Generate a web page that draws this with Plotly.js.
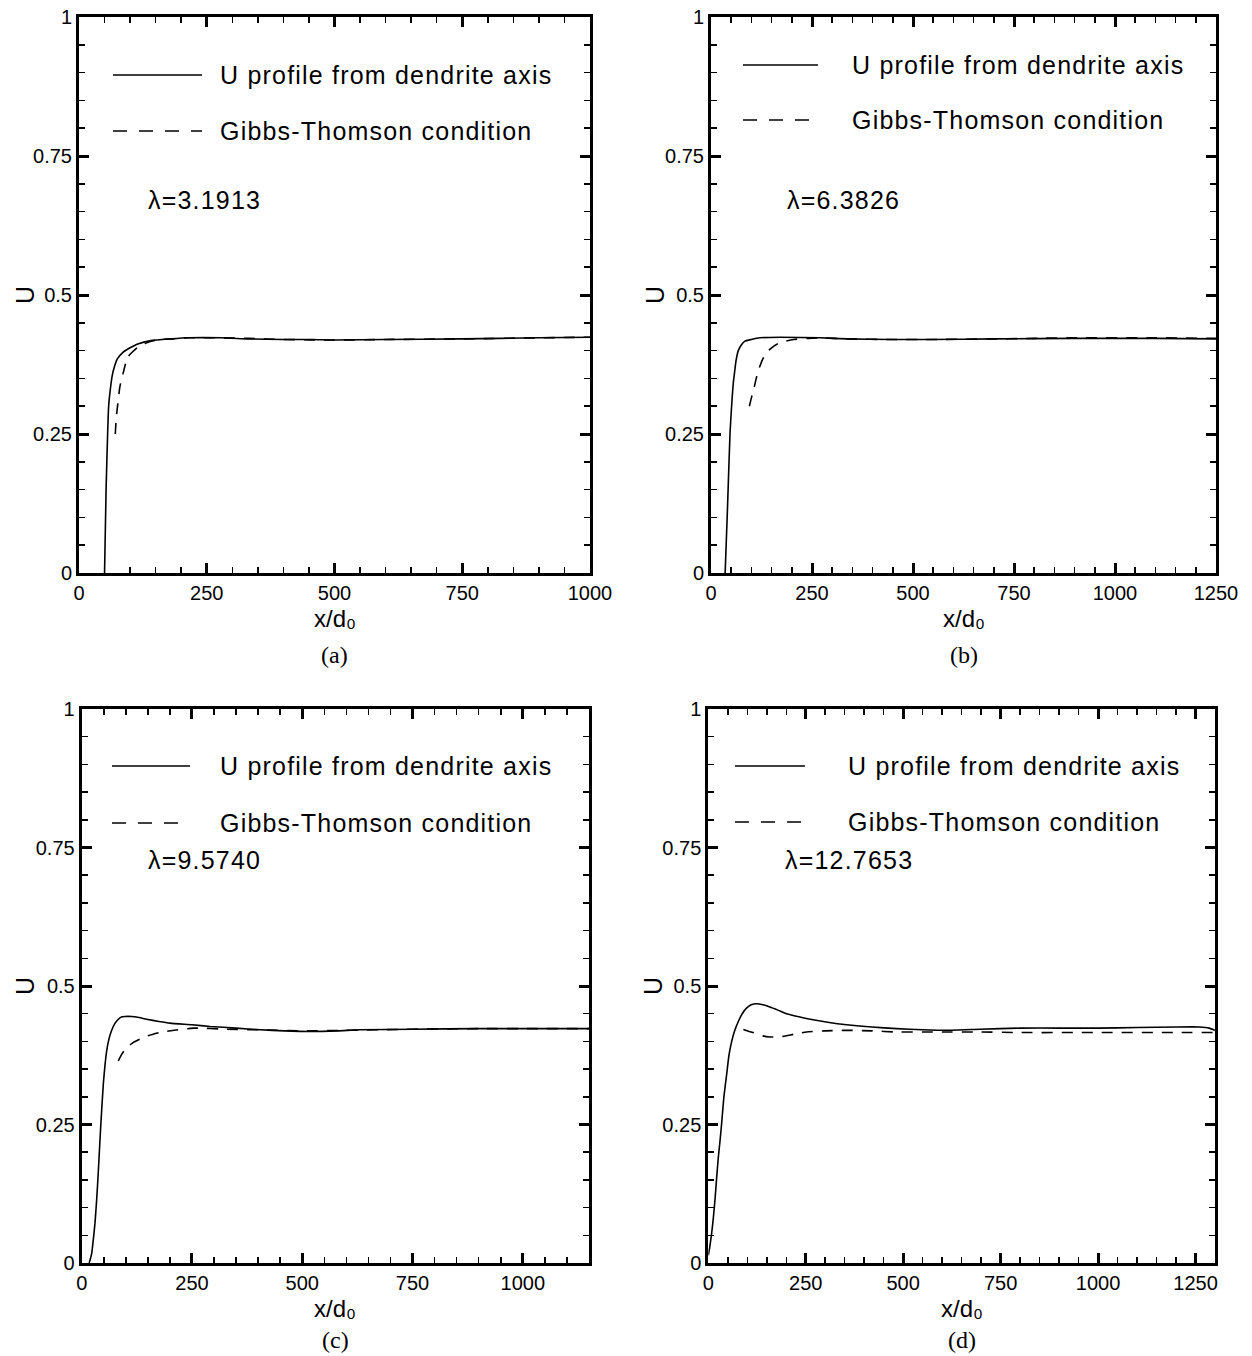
<!DOCTYPE html>
<html>
<head>
<meta charset="utf-8">
<script src="https://cdn.plot.ly/plotly-3.0.1.min.js"></script>
<style>html,body{margin:0;padding:0;background:#fff;}#chart{width:1252px;height:1356px;}</style>
</head>
<body>
<div id="chart"></div>
<script>
// ---- Data ----
const legendSolid = "U profile from dendrite axis";
const legendDashed = "Gibbs-Thomson condition";
const panelLabels = ["(a)", "(b)", "(c)", "(d)"];
const lambdaLabels = ["λ=3.1913", "λ=6.3826", "λ=9.5740", "λ=12.7653"];
const xRanges = [[0, 1000], [0, 1250], [0, 1150], [0, 1300]];
const yTicks = [0, 0.25, 0.5, 0.75, 1];
const xTitle = "x/d₀";
const yTitle = "U";

// Panel (a)
const xA_U  = [50, 53, 56, 58, 61, 65, 69, 75, 86, 100, 115, 141, 180, 214, 279, 332, 400, 457, 500, 600, 750, 900, 1000];
const yA_U  = [0, 0.15, 0.25, 0.3, 0.328, 0.355, 0.37, 0.385, 0.397, 0.405, 0.412, 0.418, 0.421, 0.423, 0.423, 0.421, 0.42, 0.42, 0.419, 0.42, 0.421, 0.423, 0.424];
const xA_GT = [71, 73, 76, 80, 86, 95, 105, 115, 130, 141, 160, 181, 214, 279, 332, 400, 500, 600, 750, 900, 1000];
const yA_GT = [0.25, 0.28, 0.305, 0.335, 0.358, 0.388, 0.398, 0.406, 0.413, 0.417, 0.42, 0.421, 0.423, 0.423, 0.422, 0.42, 0.419, 0.42, 0.421, 0.423, 0.424];

// Panel (b)
const xB_U  = [35, 41, 47, 51, 55, 59, 62, 67.6, 75, 84, 100, 121, 171, 270, 336, 450, 542, 700, 900, 1100, 1250];
const yB_U  = [0, 0.12, 0.25, 0.3, 0.34, 0.365, 0.382, 0.40, 0.41, 0.417, 0.42, 0.423, 0.424, 0.423, 0.421, 0.42, 0.42, 0.421, 0.422, 0.422, 0.421];
const xB_GT = [95, 100, 105, 111, 117, 127, 138, 150, 162, 180, 204, 240, 270, 336, 450, 542, 700, 900, 1100, 1250];
const yB_GT = [0.30, 0.315, 0.328, 0.347, 0.364, 0.383, 0.397, 0.405, 0.411, 0.416, 0.42, 0.422, 0.423, 0.421, 0.42, 0.42, 0.421, 0.423, 0.423, 0.422];

// Panel (c)
const xC_U  = [17, 22.6, 26, 30, 34, 37.8, 43, 49, 56.6, 62, 68, 75, 83, 90, 98, 113, 130, 147, 175, 200, 250, 291, 350, 404, 460, 517, 580, 631, 750, 900, 1000, 1150];
const yC_U  = [0, 0.017, 0.04, 0.071, 0.115, 0.167, 0.245, 0.323, 0.383, 0.405, 0.42, 0.432, 0.44, 0.444, 0.445, 0.445, 0.443, 0.44, 0.436, 0.433, 0.43, 0.427, 0.424, 0.421, 0.419, 0.418, 0.419, 0.421, 0.422, 0.423, 0.423, 0.423];
const xC_GT = [83, 91, 102, 115, 132, 150, 177, 210, 253, 329, 400, 500, 600, 750, 900, 1000, 1150];
const yC_GT = [0.365, 0.377, 0.389, 0.397, 0.404, 0.41, 0.416, 0.42, 0.424, 0.422, 0.421, 0.419, 0.42, 0.422, 0.423, 0.423, 0.423];

// Panel (d)
const xD_U  = [0, 4, 8.5, 13, 17, 21, 25.6, 30, 34, 40, 47, 53, 60, 68, 77, 87, 98, 110, 124, 140, 158, 180, 201, 235, 269, 310, 355, 420, 483, 550, 611, 697, 800, 900, 1000, 1100, 1200, 1260, 1285, 1300];
const yD_U  = [0.014, 0.03, 0.053, 0.082, 0.113, 0.15, 0.19, 0.22, 0.25, 0.3, 0.34, 0.375, 0.40, 0.42, 0.436, 0.45, 0.46, 0.466, 0.468, 0.466, 0.462, 0.456, 0.45, 0.444, 0.439, 0.434, 0.43, 0.426, 0.423, 0.421, 0.42, 0.422, 0.424, 0.424, 0.424, 0.425, 0.426, 0.426, 0.424, 0.42];
const xD_GT = [90, 105, 124, 140, 158, 175, 192, 220, 252, 300, 355, 420, 483, 600, 697, 800, 1000, 1200, 1300];
const yD_GT = [0.4215, 0.418, 0.414, 0.41, 0.408, 0.408, 0.409, 0.413, 0.417, 0.419, 0.42, 0.419, 0.417, 0.417, 0.417, 0.416, 0.416, 0.416, 0.416];

// ---- Layout geometry (pixels on a 1252 x 1356 page) ----
const W = 1252, H = 1356;
const px = v => v / W;
const py = v => 1 - v / H;
const plotBoxes = [
  {x0: 79,    x1: 590,  y0: 17,  y1: 573},
  {x0: 711,   x1: 1216, y0: 17,  y1: 573},
  {x0: 81.7,  x1: 589,  y0: 709, y1: 1263},
  {x0: 708.3, x1: 1215, y0: 709, y1: 1263}
];
// legend / label positions per panel (pixels)
const legendPos = [
  {lx0: 113, lx1: 202, ly1: 75, ly2: 131, tx: 218, lamx: 146, lamy: 200, capy: 655, ux: 25, uy: 295, xty: 604},
  {lx0: 743, lx1: 818, ly1: 65, ly2: 120, tx: 850, lamx: 785, lamy: 200, capy: 655, ux: 655, uy: 295, xty: 604},
  {lx0: 112, lx1: 190, ly1: 766, ly2: 823, tx: 218, lamx: 146, lamy: 860, capy: 1340, ux: 25, uy: 986, xty: 1294},
  {lx0: 735, lx1: 805, ly1: 766, ly2: 822, tx: 846, lamx: 783, lamy: 860, capy: 1340, ux: 653, uy: 986, xty: 1294}
];

const SANS = "Liberation Sans, Arial, Helvetica, sans-serif";
const SERIF = "Liberation Serif, Times New Roman, serif";
const series = [
  [xA_U, yA_U, xA_GT, yA_GT],
  [xB_U, yB_U, xB_GT, yB_GT],
  [xC_U, yC_U, xC_GT, yC_GT],
  [xD_U, yD_U, xD_GT, yD_GT]
];

const data = [];
const layout = {
  width: W, height: H,
  margin: {l: 0, r: 0, t: 0, b: 0},
  paper_bgcolor: "#fff", plot_bgcolor: "#fff",
  showlegend: false,
  shapes: [], annotations: [],
  font: {family: SANS, color: "#000"}
};

const sp = s => '<span style="letter-spacing:1.2px">' + s + '</span>';

series.forEach((s, i) => {
  const n = i === 0 ? "" : String(i + 1);
  const xa = "x" + n, ya = "y" + n;
  data.push({x: s[0], y: s[1], xaxis: xa, yaxis: ya, type: "scatter", mode: "lines",
             name: legendSolid, line: {color: "#000", width: 1.6, shape: "spline", smoothing: 0.5}});
  data.push({x: s[2], y: s[3], xaxis: xa, yaxis: ya, type: "scatter", mode: "lines",
             name: legendDashed, line: {color: "#000", width: 1.6, dash: "11px,9px", shape: "spline", smoothing: 0.5}});
  const b = plotBoxes[i];
  layout["xaxis" + n] = {
    anchor: ya, domain: [px(b.x0), px(b.x1)], range: xRanges[i],
    tick0: 0, dtick: 250, ticks: "inside", ticklen: 10, tickwidth: 3, tickcolor: "#000",
    showline: true, linewidth: 3, linecolor: "#000", mirror: "ticks",
    showgrid: false, zeroline: false,
    minor: {dtick: 50, tick0: 0, ticks: "inside", ticklen: 6, tickwidth: 1.5, tickcolor: "#000", showgrid: false},
    tickfont: {family: SANS, size: 20, color: "#000"},
    fixedrange: true
  };
  layout["yaxis" + n] = {
    anchor: xa, domain: [py(b.y1), py(b.y0)], range: [0, 1],
    tickvals: yTicks, ticks: "inside", ticklen: 10, tickwidth: 3, tickcolor: "#000",
    showline: true, linewidth: 3, linecolor: "#000", mirror: "ticks",
    showgrid: false, zeroline: false,
    minor: {dtick: 0.05, tick0: 0, ticks: "inside", ticklen: 6, tickwidth: 1.5, tickcolor: "#000", showgrid: false},
    tickfont: {family: SANS, size: 20, color: "#000"},
    fixedrange: true
  };
  const L = legendPos[i];
  layout.shapes.push({type: "line", xref: "paper", yref: "paper", x0: px(L.lx0), x1: px(L.lx1), y0: py(L.ly1), y1: py(L.ly1),
                      line: {color: "#000", width: 1.6}});
  layout.shapes.push({type: "line", xref: "paper", yref: "paper", x0: px(L.lx0), x1: px(L.lx1), y0: py(L.ly2), y1: py(L.ly2),
                      line: {color: "#000", width: 1.6, dash: "14px,12px"}});
  layout.annotations.push({xref: "paper", yref: "paper", x: px(L.tx), y: py(L.ly1), xanchor: "left", yanchor: "middle",
                           text: sp(legendSolid), showarrow: false, font: {family: SANS, size: 25, color: "#000"}});
  layout.annotations.push({xref: "paper", yref: "paper", x: px(L.tx), y: py(L.ly2), xanchor: "left", yanchor: "middle",
                           text: sp(legendDashed), showarrow: false, font: {family: SANS, size: 25, color: "#000"}});
  layout.annotations.push({xref: "paper", yref: "paper", x: px(L.lamx), y: py(L.lamy), xanchor: "left", yanchor: "middle",
                           text: sp(lambdaLabels[i]), showarrow: false, font: {family: SANS, size: 25, color: "#000"}});
  layout.annotations.push({xref: "paper", yref: "paper", x: px(L.ux), y: py(L.uy), xanchor: "center", yanchor: "middle",
                           text: yTitle, textangle: -90, showarrow: false, font: {family: SANS, size: 25, color: "#000"}});
  layout.annotations.push({xref: "paper", yref: "paper", x: px((b.x0 + b.x1) / 2), y: py(L.xty), xanchor: "center", yanchor: "top",
                           borderpad: 0, text: xTitle, showarrow: false, font: {family: SANS, size: 24, color: "#000"}});
  layout.annotations.push({xref: "paper", yref: "paper", x: px((b.x0 + b.x1) / 2), y: py(L.capy), xanchor: "center", yanchor: "middle",
                           text: panelLabels[i], showarrow: false, font: {family: SERIF, size: 24, color: "#000"}});
});

Plotly.newPlot("chart", data, layout, {staticPlot: true, displayModeBar: false});
</script>
</body>
</html>
